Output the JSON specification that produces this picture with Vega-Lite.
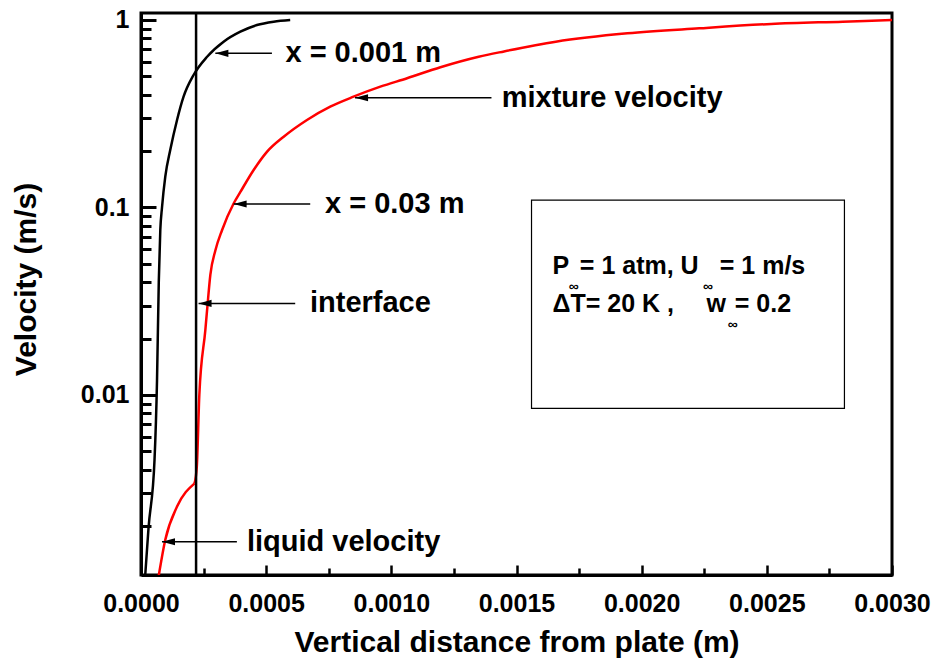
{
  "$schema": "https://vega.github.io/schema/vega-lite/v6.json",
  "width": 751,
  "height": 562,
  "autosize": {"type": "none"},
  "padding": {"left": 141, "top": 13, "right": 45, "bottom": 85},
  "background": "white",
  "config": {
    "view": {"stroke": "black", "strokeWidth": 3},
    "font": "Liberation Sans",
    "axis": {
      "grid": false,
      "domainColor": "black",
      "domainWidth": 3,
      "tickColor": "black",
      "labelFont": "Liberation Sans",
      "labelFontWeight": "bold",
      "labelFontSize": 25,
      "labelColor": "black",
      "titleFont": "Liberation Sans",
      "titleFontWeight": "bold",
      "titleFontSize": 30,
      "titleColor": "black"
    }
  },
  "datasets": {
    "curves": [
      {"series": "x = 0.001 m", "seg": "a", "x": 0.000017, "y": 0.0011},
      {"series": "x = 0.001 m", "seg": "a", "x": 0.00003, "y": 0.00195},
      {"series": "x = 0.001 m", "seg": "a", "x": 0.000054, "y": 0.0045},
      {"series": "x = 0.001 m", "seg": "a", "x": 0.000064, "y": 0.012},
      {"series": "x = 0.001 m", "seg": "a", "x": 0.000071, "y": 0.04},
      {"series": "x = 0.001 m", "seg": "a", "x": 0.0000771, "y": 0.0759},
      {"series": "x = 0.001 m", "seg": "a", "x": 0.0000839, "y": 0.1},
      {"series": "x = 0.001 m", "seg": "a", "x": 0.000097, "y": 0.146},
      {"series": "x = 0.001 m", "seg": "a", "x": 0.000117, "y": 0.203},
      {"series": "x = 0.001 m", "seg": "a", "x": 0.000144, "y": 0.293},
      {"series": "x = 0.001 m", "seg": "a", "x": 0.00017, "y": 0.39},
      {"series": "x = 0.001 m", "seg": "a", "x": 0.00021, "y": 0.509},
      {"series": "x = 0.001 m", "seg": "a", "x": 0.000264, "y": 0.637},
      {"series": "x = 0.001 m", "seg": "a", "x": 0.00033, "y": 0.766},
      {"series": "x = 0.001 m", "seg": "a", "x": 0.000397, "y": 0.866},
      {"series": "x = 0.001 m", "seg": "a", "x": 0.000463, "y": 0.94},
      {"series": "x = 0.001 m", "seg": "a", "x": 0.00053, "y": 0.98},
      {"series": "x = 0.001 m", "seg": "a", "x": 0.000596, "y": 1.0},
      {"series": "x = 0.03 m", "seg": "liquid", "x": 0.00007, "y": 0.00107},
      {"series": "x = 0.03 m", "seg": "liquid", "x": 0.000097, "y": 0.00169},
      {"series": "x = 0.03 m", "seg": "liquid", "x": 0.000144, "y": 0.00254},
      {"series": "x = 0.03 m", "seg": "liquid", "x": 0.000214, "y": 0.00338},
      {"series": "x = 0.03 m", "seg": "mixture", "x": 0.000214, "y": 0.00338},
      {"series": "x = 0.03 m", "seg": "mixture", "x": 0.000223, "y": 0.00416},
      {"series": "x = 0.03 m", "seg": "mixture", "x": 0.000233, "y": 0.01},
      {"series": "x = 0.03 m", "seg": "mixture", "x": 0.000257, "y": 0.0222},
      {"series": "x = 0.03 m", "seg": "mixture", "x": 0.000265, "y": 0.0294},
      {"series": "x = 0.03 m", "seg": "mixture", "x": 0.000277, "y": 0.0437},
      {"series": "x = 0.03 m", "seg": "mixture", "x": 0.000297, "y": 0.059},
      {"series": "x = 0.03 m", "seg": "mixture", "x": 0.000324, "y": 0.0759},
      {"series": "x = 0.03 m", "seg": "mixture", "x": 0.00037, "y": 0.105},
      {"series": "x = 0.03 m", "seg": "mixture", "x": 0.000397, "y": 0.121},
      {"series": "x = 0.03 m", "seg": "mixture", "x": 0.00045, "y": 0.1585},
      {"series": "x = 0.03 m", "seg": "mixture", "x": 0.000503, "y": 0.198},
      {"series": "x = 0.03 m", "seg": "mixture", "x": 0.00057, "y": 0.2385},
      {"series": "x = 0.03 m", "seg": "mixture", "x": 0.000663, "y": 0.293},
      {"series": "x = 0.03 m", "seg": "mixture", "x": 0.000756, "y": 0.345},
      {"series": "x = 0.03 m", "seg": "mixture", "x": 0.000849, "y": 0.39},
      {"series": "x = 0.03 m", "seg": "mixture", "x": 0.000956, "y": 0.441},
      {"series": "x = 0.03 m", "seg": "mixture", "x": 0.001063, "y": 0.489},
      {"series": "x = 0.03 m", "seg": "mixture", "x": 0.001196, "y": 0.56},
      {"series": "x = 0.03 m", "seg": "mixture", "x": 0.001349, "y": 0.637},
      {"series": "x = 0.03 m", "seg": "mixture", "x": 0.00145, "y": 0.68},
      {"series": "x = 0.03 m", "seg": "mixture", "x": 0.001657, "y": 0.766},
      {"series": "x = 0.03 m", "seg": "mixture", "x": 0.001943, "y": 0.849},
      {"series": "x = 0.03 m", "seg": "mixture", "x": 0.00223, "y": 0.903},
      {"series": "x = 0.03 m", "seg": "mixture", "x": 0.002517, "y": 0.952},
      {"series": "x = 0.03 m", "seg": "mixture", "x": 0.002803, "y": 0.98},
      {"series": "x = 0.03 m", "seg": "mixture", "x": 0.003, "y": 1.0}
    ],
    "interface": [{"x": 0.00022}],
    "arrows": [
      {"x": 0.000297, "x2": 0.000523, "y": 0.664},
      {"x": 0.000855, "x2": 0.0014, "y": 0.385},
      {"x": 0.00037, "x2": 0.000676, "y": 0.1044},
      {"x": 0.00023, "x2": 0.000616, "y": 0.0308},
      {"x": 0.0000838, "x2": 0.000383, "y": 0.00165}
    ],
    "labels": [
      {"x": 0.000577, "y": 0.664, "text": "x = 0.001 m"},
      {"x": 0.001441, "y": 0.385, "text": "mixture velocity"},
      {"x": 0.000735, "y": 0.1044, "text": "x = 0.03 m"},
      {"x": 0.000675, "y": 0.0308, "text": "interface"},
      {"x": 0.000423, "y": 0.00165, "text": "liquid velocity"}
    ],
    "box": [{"x": 0.00156, "x2": 0.00281, "y": 0.1096, "y2": 0.00849}],
    "boxtext": [
      {"x": 0.001644, "y": 0.0486, "text": "P"},
      {"x": 0.001753, "y": 0.0486, "text": "= 1 atm, U"},
      {"x": 0.002312, "y": 0.0486, "text": "= 1 m/s"},
      {"x": 0.001644, "y": 0.0304, "text": "ΔT= 20 K ,"},
      {"x": 0.002259, "y": 0.0304, "text": "w"},
      {"x": 0.002372, "y": 0.0304, "text": "= 0.2"}
    ],
    "subs": [
      {"x": 0.001709, "y": 0.0377, "text": "∞"},
      {"x": 0.002245, "y": 0.0377, "text": "∞"},
      {"x": 0.002344, "y": 0.0235, "text": "∞"}
    ]
  },
  "layer": [
    {
      "data": {"name": "curves"},
      "mark": {"type": "line", "strokeWidth": 2.5, "clip": true, "interpolate": "monotone"},
      "encoding": {
        "x": {
          "field": "x", "type": "quantitative", "title": "Vertical distance from plate (m)",
          "scale": {"domain": [0, 0.003], "nice": false, "zero": false},
          "axis": {
            "values": [0, 0.00025, 0.0005, 0.00075, 0.001, 0.00125, 0.0015, 0.00175, 0.002, 0.00225, 0.0025, 0.00275, 0.003],
            "format": ".4f",
            "labelExpr": "abs(datum.value*2000 - round(datum.value*2000)) < 0.000001 ? datum.label : ''",
            "tickSize": {"condition": {"test": "abs(datum.value*2000 - round(datum.value*2000)) < 0.000001", "value": -10}, "value": -7},
            "tickWidth": 2.5,
            "labelPadding": 26,
            "labelFlush": false,
            "labelOverlap": false,
            "titlePadding": 8
          }
        },
        "y": {
          "field": "y", "type": "quantitative", "title": "Velocity (m/s)",
          "scale": {"type": "log", "domain": [0.0010965, 1.0897], "nice": false},
          "axis": {
            "values": [0.002, 0.003, 0.004, 0.005, 0.006, 0.007, 0.008, 0.009, 0.01, 0.02, 0.03, 0.04, 0.05, 0.06, 0.07, 0.08, 0.09, 0.1, 0.2, 0.3, 0.4, 0.5, 0.6, 0.7, 0.8, 0.9, 1],
            "format": "~g",
            "labelExpr": "abs(log(datum.value)/LN10 - round(log(datum.value)/LN10)) < 0.000001 ? datum.label : ''",
            "tickSize": {"condition": {"test": "abs(log(datum.value)/LN10 - round(log(datum.value)/LN10)) < 0.000001", "value": -15}, "value": -10},
            "tickWidth": 3,
            "labelPadding": 27,
            "labelFlush": false,
            "labelOverlap": false,
            "titlePadding": 39,
            "titleY": 266
          }
        },
        "color": {"field": "series", "type": "nominal", "scale": {"domain": ["x = 0.001 m", "x = 0.03 m"], "range": ["black", "#ff0000"]}, "legend": null},
        "detail": {"field": "seg", "type": "nominal"}
      }
    },
    {
      "data": {"name": "box"},
      "mark": {"type": "rect", "fill": null, "fillOpacity": 0, "stroke": "black", "strokeWidth": 1.2},
      "encoding": {
        "x": {"field": "x", "type": "quantitative", "title": "Vertical distance from plate (m)", "scale": {"domain": [0, 0.003], "nice": false, "zero": false}},
        "x2": {"field": "x2"},
        "y": {"field": "y", "type": "quantitative", "title": "Velocity (m/s)", "scale": {"type": "log", "domain": [0.0010965, 1.0897], "nice": false}},
        "y2": {"field": "y2"}
      }
    },
    {
      "data": {"name": "interface"},
      "mark": {"type": "rule", "color": "black", "strokeWidth": 2.5},
      "encoding": {
        "x": {"field": "x", "type": "quantitative", "title": "Vertical distance from plate (m)", "scale": {"domain": [0, 0.003], "nice": false, "zero": false}}
      }
    },
    {
      "data": {"name": "arrows"},
      "mark": {"type": "rule", "color": "black", "strokeWidth": 1.5},
      "encoding": {
        "x": {"field": "x", "type": "quantitative", "title": "Vertical distance from plate (m)", "scale": {"domain": [0, 0.003], "nice": false, "zero": false}},
        "x2": {"field": "x2"},
        "y": {"field": "y", "type": "quantitative", "title": "Velocity (m/s)", "scale": {"type": "log", "domain": [0.0010965, 1.0897], "nice": false}}
      }
    },
    {
      "data": {"name": "arrows"},
      "mark": {"type": "point", "shape": "M0,0L2,-0.55L2,0.55Z", "filled": true, "color": "black", "opacity": 1, "size": 169},
      "encoding": {
        "x": {"field": "x", "type": "quantitative", "title": "Vertical distance from plate (m)", "scale": {"domain": [0, 0.003], "nice": false, "zero": false}},
        "y": {"field": "y", "type": "quantitative", "title": "Velocity (m/s)", "scale": {"type": "log", "domain": [0.0010965, 1.0897], "nice": false}}
      }
    },
    {
      "data": {"name": "labels"},
      "mark": {"type": "text", "align": "left", "baseline": "middle", "fontSize": 29, "fontWeight": "bold", "font": "Liberation Sans", "color": "black"},
      "encoding": {
        "x": {"field": "x", "type": "quantitative", "title": "Vertical distance from plate (m)", "scale": {"domain": [0, 0.003], "nice": false, "zero": false}},
        "y": {"field": "y", "type": "quantitative", "title": "Velocity (m/s)", "scale": {"type": "log", "domain": [0.0010965, 1.0897], "nice": false}},
        "text": {"field": "text"}
      }
    },
    {
      "data": {"name": "boxtext"},
      "mark": {"type": "text", "align": "left", "baseline": "middle", "fontSize": 25, "fontWeight": "bold", "font": "Liberation Sans", "color": "black"},
      "encoding": {
        "x": {"field": "x", "type": "quantitative", "title": "Vertical distance from plate (m)", "scale": {"domain": [0, 0.003], "nice": false, "zero": false}},
        "y": {"field": "y", "type": "quantitative", "title": "Velocity (m/s)", "scale": {"type": "log", "domain": [0.0010965, 1.0897], "nice": false}},
        "text": {"field": "text"}
      }
    },
    {
      "data": {"name": "subs"},
      "mark": {"type": "text", "align": "left", "baseline": "middle", "fontSize": 14, "fontWeight": "bold", "font": "Liberation Sans", "color": "black"},
      "encoding": {
        "x": {"field": "x", "type": "quantitative", "title": "Vertical distance from plate (m)", "scale": {"domain": [0, 0.003], "nice": false, "zero": false}},
        "y": {"field": "y", "type": "quantitative", "title": "Velocity (m/s)", "scale": {"type": "log", "domain": [0.0010965, 1.0897], "nice": false}},
        "text": {"field": "text"}
      }
    }
  ]
}
